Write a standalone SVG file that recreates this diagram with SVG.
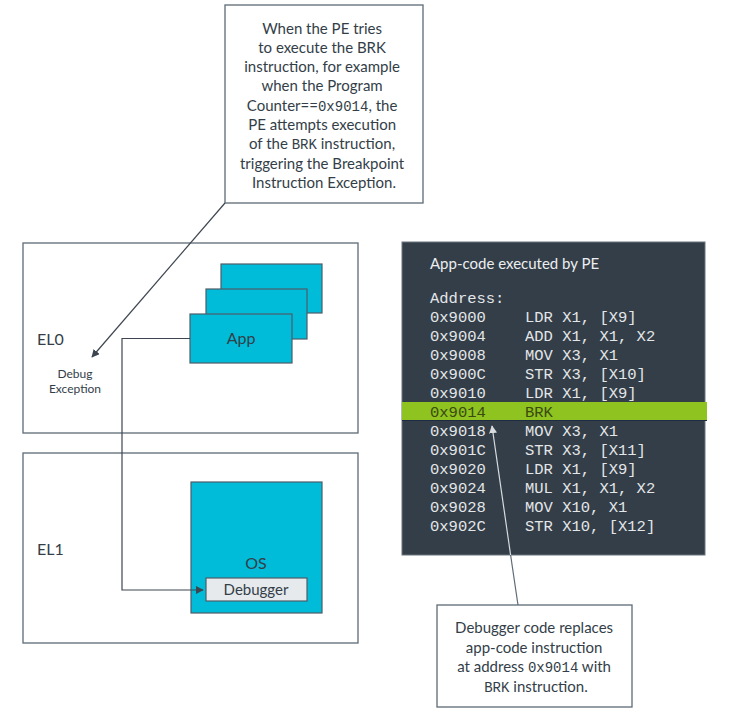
<svg xmlns="http://www.w3.org/2000/svg" width="732" height="725" viewBox="0 0 732 725">
<defs>
<marker id="ah" viewBox="0 0 10 10" refX="9" refY="5" markerWidth="8" markerHeight="8" markerUnits="userSpaceOnUse" orient="auto"><path d="M0,0 L10,5 L0,10 z" fill="#3d4650"/></marker>
<marker id="ahl" viewBox="0 0 10 10" refX="9" refY="5" markerWidth="8" markerHeight="8" markerUnits="userSpaceOnUse" orient="auto"><path d="M0,0 L10,5 L0,10 z" fill="#d8dcdf"/></marker>
<style>
.box{fill:#fff;stroke:#5f6b76;stroke-width:1.3}
.cy{fill:#00bcd9;stroke:#4f5d68;stroke-width:1.2}
.t{font-family:Lato,"Liberation Sans",sans-serif;fill:#333e48}
.m{font-family:"Liberation Mono",monospace}
.code{font-family:"Liberation Mono",monospace;font-size:15.5px;fill:#e4e6e8}
.ln{fill:none;stroke:#3d4650;stroke-width:1.2}
</style>
</defs>
<rect width="732" height="725" fill="#fff"/>

<g id="callout-top">
<rect class="box" x="225" y="5" width="198" height="198"/>
<text class="t" font-size="15" text-anchor="middle">
<tspan x="324" y="33.5">When the PE tries</tspan>
<tspan x="324" y="52.8">to execute the BRK</tspan>
<tspan x="324" y="72">instruction, for example</tspan>
<tspan x="324" y="91.3">when the Program</tspan>
<tspan x="324" y="110.6">Counter==<tspan class="m" font-size="14">0x9014</tspan>, the</tspan>
<tspan x="324" y="130">PE attempts execution</tspan>
<tspan x="324" y="149.3">of the <tspan class="m" font-size="14">BRK</tspan> instruction,</tspan>
<tspan x="324" y="168.5">triggering the Breakpoint</tspan>
<tspan x="324" y="187.8">Instruction Exception.</tspan>
</text>
</g>

<g id="el0">
<rect class="box" x="23" y="243" width="335" height="190"/>
<text class="t" x="37" y="345" font-size="16">EL0</text>
<text class="t" font-size="12" text-anchor="middle"><tspan x="75" y="378">Debug</tspan><tspan x="75" y="393">Exception</tspan></text>
</g>

<g id="app">
<rect class="cy" x="221" y="264" width="101" height="49"/>
<rect class="cy" x="206" y="289" width="101" height="50"/>
<rect class="cy" x="190" y="314" width="102" height="49"/>
<text class="t" x="241" y="344" font-size="16" text-anchor="middle">App</text>
</g>

<g id="el1">
<rect class="box" x="23" y="453" width="335" height="190"/>
<text class="t" x="37" y="555" font-size="16">EL1</text>
</g>

<g id="os">
<rect class="cy" x="191" y="482" width="131" height="131"/>
<text class="t" x="256" y="569" font-size="16" text-anchor="middle">OS</text>
</g>

<g id="debugger">
<rect x="206" y="578" width="101" height="23" fill="#e6eaec" stroke="#4f5d68" stroke-width="1.2"/>
<text class="t" x="256" y="595" font-size="15" text-anchor="middle">Debugger</text>
</g>

<g id="code-panel">
<rect x="402" y="242" width="303" height="313" fill="#333e48" stroke="#6a747d" stroke-width="1"/>
<rect x="402" y="402" width="305" height="18" fill="#8fc31f"/>
<line x1="402" y1="420.5" x2="707" y2="420.5" stroke="#1f2a44" stroke-width="1"/>
<text x="430" y="269" font-family="Lato,'Liberation Sans',sans-serif" font-size="15" fill="#eceef0">App-code executed by PE</text>
<text class="code" x="430" y="303">Address:</text>
<text class="code"><tspan x="430" y="322">0x9000</tspan><tspan x="525" y="322">LDR X1, [X9]</tspan></text>
<text class="code"><tspan x="430" y="341">0x9004</tspan><tspan x="525" y="341">ADD X1, X1, X2</tspan></text>
<text class="code"><tspan x="430" y="360">0x9008</tspan><tspan x="525" y="360">MOV X3, X1</tspan></text>
<text class="code"><tspan x="430" y="379">0x900C</tspan><tspan x="525" y="379">STR X3, [X10]</tspan></text>
<text class="code"><tspan x="430" y="398">0x9010</tspan><tspan x="525" y="398">LDR X1, [X9]</tspan></text>
<text class="code" fill="#3a4a12" style="fill:#3a4a12"><tspan x="430" y="417">0x9014</tspan><tspan x="525" y="417">BRK</tspan></text>
<text class="code"><tspan x="430" y="436">0x9018</tspan><tspan x="525" y="436">MOV X3, X1</tspan></text>
<text class="code"><tspan x="430" y="455">0x901C</tspan><tspan x="525" y="455">STR X3, [X11]</tspan></text>
<text class="code"><tspan x="430" y="474">0x9020</tspan><tspan x="525" y="474">LDR X1, [X9]</tspan></text>
<text class="code"><tspan x="430" y="493">0x9024</tspan><tspan x="525" y="493">MUL X1, X1, X2</tspan></text>
<text class="code"><tspan x="430" y="512">0x9028</tspan><tspan x="525" y="512">MOV X10, X1</tspan></text>
<text class="code"><tspan x="430" y="531">0x902C</tspan><tspan x="525" y="531">STR X10, [X12]</tspan></text>
</g>

<g id="callout-bottom">
<rect class="box" x="437" y="605" width="195" height="102"/>
<text class="t" font-size="15" text-anchor="middle">
<tspan x="536" y="633">Debugger code replaces</tspan>
<tspan x="536" y="652.5">app-code instruction</tspan>
<tspan x="536" y="672">at address <tspan class="m" font-size="14">0x9014</tspan> with</tspan>
<tspan x="536" y="691.5"><tspan class="m" font-size="14">BRK</tspan> instruction.</tspan>
</text>
</g>

<g id="connectors">
<line class="ln" x1="225" y1="203" x2="92" y2="357" marker-end="url(#ah)"/>
<path class="ln" d="M190,338.5 H122 V590 H203" marker-end="url(#ah)"/>
<line x1="518" y1="605" x2="510.6" y2="555" stroke="#5f6b76" stroke-width="1.2"/>
<line x1="510.6" y1="555" x2="492" y2="426" stroke="#d8dcdf" stroke-width="1.2" marker-end="url(#ahl)"/>
</g>
</svg>
